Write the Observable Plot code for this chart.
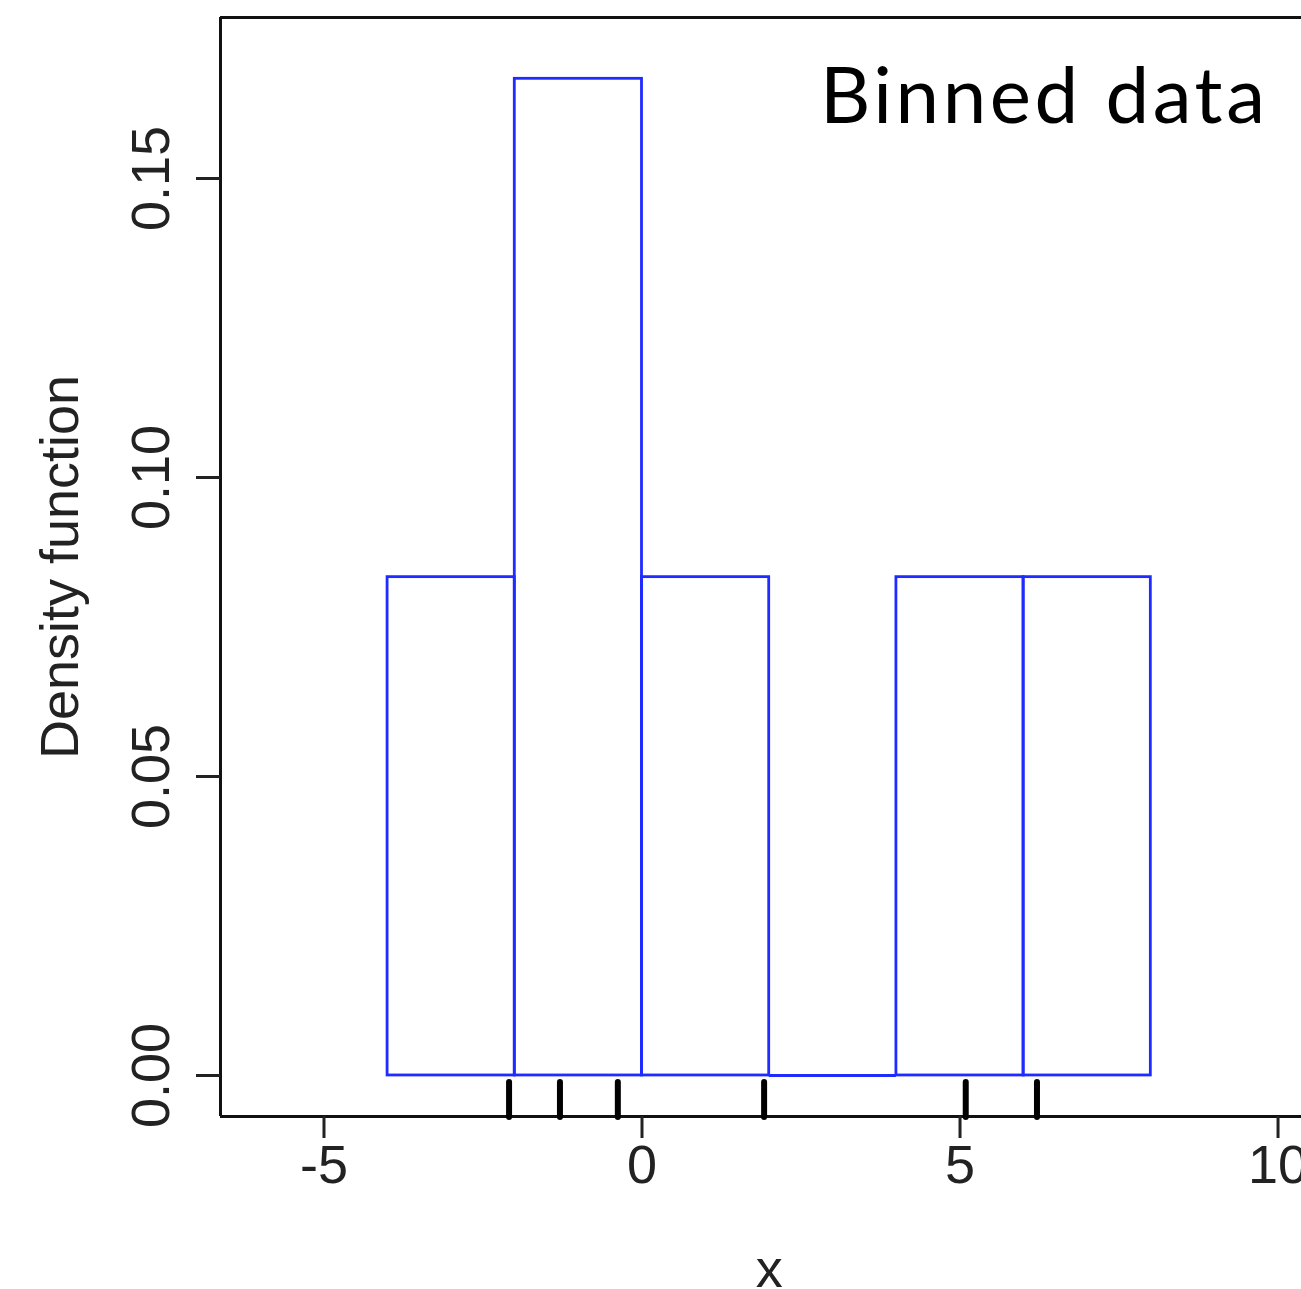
<!DOCTYPE html>
<html>
<head>
<meta charset="utf-8">
<script src="https://cdn.jsdelivr.net/npm/d3@7"></script>
<script src="https://cdn.jsdelivr.net/npm/@observablehq/plot@0.6"></script>
<style>
  html, body { margin: 0; padding: 0; overflow: hidden; background: #fff; }
  svg { display: block; }
  .title-text text { letter-spacing: 3.6px; }
</style>
</head>
<body>
<div id="chart"></div>
<script>
// Observations (rug marks)
const observations = [-2.09, -1.29, -0.38, 1.92, 5.09, 6.21];
// Histogram bin edges
const binEdges = [-4, -2, 0, 2, 4, 6, 8];
// Axis ticks
const xTicks = [-5, 0, 5, 10];
const yTicks = [0, 0.05, 0.10, 0.15];
// Texts
const titleText = "Binned data";
const xLabel = "x";
const yLabel = "Density function";

// Histogram (density) computed from the observations
const binner = d3.bin().domain([binEdges[0], binEdges[binEdges.length - 1]]).thresholds(binEdges.slice(1, -1));
const n = observations.length;
const bins = binner(observations).map(b => ({x1: b.x0, x2: b.x1, density: b.length / (n * (b.x1 - b.x0))}));
const filledBins = bins.filter(b => b.density > 0);
const emptyBins = bins.filter(b => b.density === 0);

const xDomain = [-6.627, 10.369];
const yDomain = [-0.00686, 0.17692];
const blue = "#1f2bff";
const font = "Liberation Sans, Arial, Helvetica, sans-serif";

const chart = Plot.plot({
  width: 1301,
  height: 1289,
  marginLeft: 220,
  marginRight: 0,
  marginTop: 17,
  marginBottom: 173,
  style: {fontFamily: font, background: "#fff", overflow: "visible"},
  x: {domain: xDomain},
  y: {domain: yDomain},
  marks: [
    Plot.rect(filledBins, {x1: "x1", x2: "x2", y1: 0, y2: "density", fill: "none", stroke: blue, strokeWidth: 2.8}),
    Plot.ruleY(emptyBins, {x1: "x1", x2: "x2", y: 0, stroke: blue, strokeWidth: 2.8}),
    // frame (left, top, bottom; right side is outside the picture)
    Plot.ruleY([yDomain[0], yDomain[1]], {stroke: "#111", strokeWidth: 3}),
    Plot.ruleX([xDomain[0]], {stroke: "#111", strokeWidth: 3}),
    // rug
    Plot.ruleX(observations, {x: d => d, y1: 0, y2: yDomain[0], insetTop: 7, insetBottom: -1, stroke: "#000", strokeWidth: 6, strokeLinecap: "round"}),
    // axes
    Plot.axisX({ticks: xTicks, tickSize: 22, tickPadding: 6, fontSize: 54, stroke: "#222", strokeWidth: 3, label: null, tickFormat: d => String(d), fill: "#222"}),
    Plot.axisY({ticks: yTicks, tickSize: 24, fontSize: 54, stroke: "#222", strokeWidth: 3, label: null, tickFormat: () => ""}),
    Plot.text(yTicks, {x: xDomain[0], y: d => d, text: d => d.toFixed(2), rotate: -90, dx: -52, textAnchor: "middle", lineAnchor: "bottom", fontSize: 54, fill: "#222"}),
    // axis titles
    Plot.text([yLabel], {frameAnchor: "left", text: d => d, rotate: -90, dx: -143, textAnchor: "middle", lineAnchor: "bottom", fontSize: 54, fill: "#222"}),
    Plot.text([xLabel], {x: 2, frameAnchor: "bottom", text: d => d, dy: 170, lineAnchor: "bottom", textAnchor: "middle", fontSize: 54, fill: "#222"}),
    // in-plot title
    Plot.text([titleText], {frameAnchor: "top-right", text: d => d, dx: -33, dy: 105, textAnchor: "end", lineAnchor: "bottom", fontSize: 78, fontFamily: "Lato, 'Noto Sans', sans-serif", fill: "#000", className: "title-text"})
  ]
});
document.getElementById("chart").appendChild(chart);
</script>
</body>
</html>
